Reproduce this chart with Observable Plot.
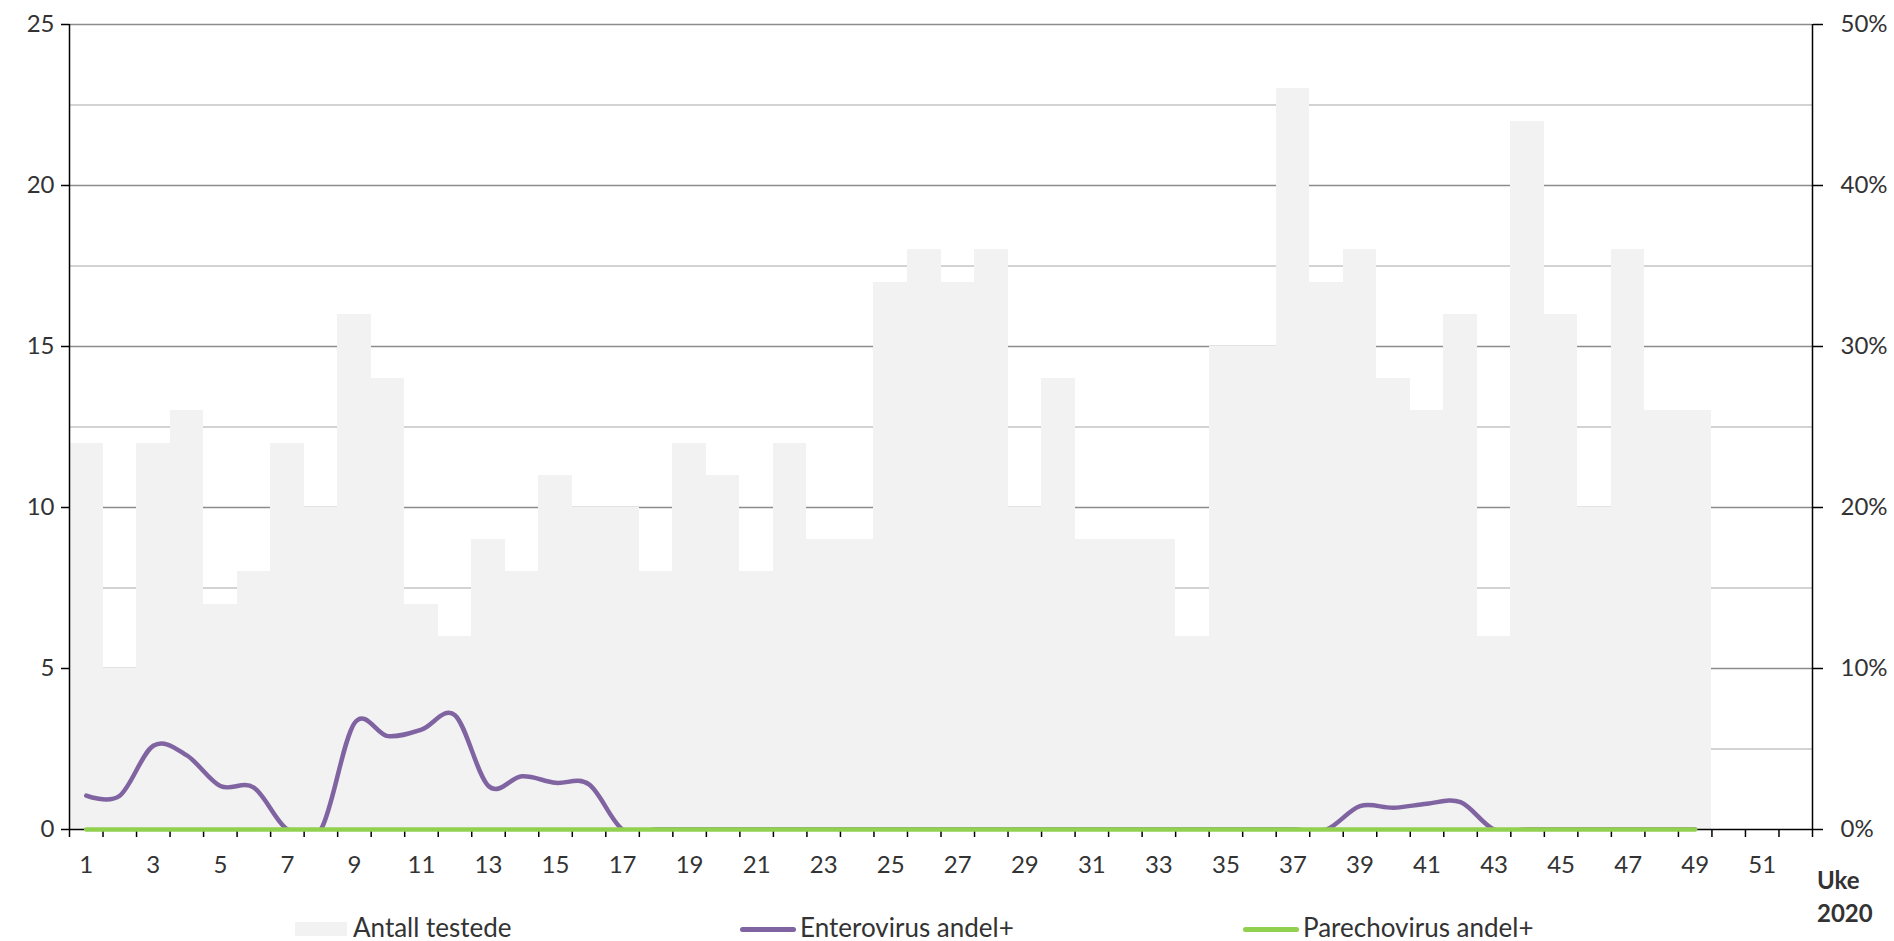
<!DOCTYPE html>
<html>
<head>
<meta charset="utf-8">
<script src="https://cdn.jsdelivr.net/npm/d3@7"></script>
<script src="https://cdn.jsdelivr.net/npm/@observablehq/plot@0.6"></script>
<style>
  html, body { margin: 0; padding: 0; background: #fff; }
  #wrap { position: relative; width: 1894px; height: 941px; font-family: Lato, "Open Sans", sans-serif; color: #333; }
  .lg { position: absolute; font-size: 26px; line-height: 1; white-space: nowrap; }
  .sw { position: absolute; }
  .uke { position: absolute; font-size: 24px; font-weight: bold; line-height: 1; }
</style>
</head>
<body>
<div id="wrap"></div>
<script>
// ---- data ----
const weeks = d3.range(1, 50);
const tested = [12,5,12,13,7,8,12,10,16,14, 7,6,9,8,11,10,10,8,12,11, 8,12,9,9,17,18,17,18,10,14, 9,9,9,6,15,15,23,17,18,14, 13,16,6,22,16,10,18,13,13];
const enteroPct = [2.1,2.1,5.2,4.6,2.7,2.6,0,0,6.6,5.8, 6.2,7.1,2.7,3.3,2.9,2.8,0,0,0,0, 0,0,0,0,0,0,0,0,0,0, 0,0,0,0,0,0,0,0,1.45,1.35, 1.6,1.7,0,0,0,0,0,0,0];
const parechoPct = weeks.map(() => 0);
const leftTicks = [0,5,10,15,20,25];
const xLabels = d3.range(1, 53, 2);
const xBoundaries = d3.range(0.5, 53, 1);
const gridMajor = [5,10,15,20,25];
const gridMinor = [2.5,7.5,12.5,17.5,22.5];
const legendLabels = ["Antall testede", "Enterovirus andel+", "Parechovirus andel+"];
const colors = {bar: "#f2f2f2", entero: "#8064a2", parecho: "#92d050"};

const rows = weeks.map((w, i) => ({week: w, tested: tested[i], entero: enteroPct[i], parecho: parechoPct[i]}));
const pctToY = p => p / 2; // 50% <-> 25

const chart = Plot.plot({
  width: 1894,
  height: 941,
  marginLeft: 69,
  marginRight: 82,
  marginTop: 24,
  marginBottom: 112,
  style: {fontFamily: "Lato, 'Open Sans', sans-serif", fontSize: "24px", color: "#333", background: "#fff"},
  x: {domain: [0.5, 52.5], axis: null},
  y: {domain: [0, 25], axis: null},
  marks: [
    Plot.ruleY(gridMinor, {stroke: "#c4c4c4", strokeWidth: 1.6}),
    Plot.ruleY(gridMajor, {stroke: "#8c8c8c", strokeWidth: 1.6}),
    Plot.rectY(rows, {x1: d => d.week - 0.5, x2: d => d.week + 0.5, y: "tested", fill: colors.bar, shapeRendering: "crispEdges"}),
    Plot.ruleX([0.5], {stroke: "#000", strokeWidth: 1.5}),
    Plot.ruleX([52.5], {stroke: "#000", strokeWidth: 1.5}),
    Plot.ruleY([0], {stroke: "#000", strokeWidth: 1.5}),
    Plot.axisY({anchor: "left", ticks: leftTicks, tickSize: 8, tickPadding: 7, label: null, stroke: "#000", strokeWidth: 1.5, fill: "#333"}),
    Plot.axisY({anchor: "right", ticks: leftTicks, tickFormat: d => (d * 2) + "%", tickSize: 10, tickPadding: 18, label: null, stroke: "#000", strokeWidth: 1.5, fill: "#333"}),
    Plot.axisX({anchor: "bottom", ticks: xBoundaries, tickFormat: () => "", tickSize: 8, label: null, stroke: "#000", strokeWidth: 1.5}),
    Plot.axisX({anchor: "bottom", ticks: xLabels, tickFormat: d => String(d), tickSize: 0, tickPadding: 26, label: null, fill: "#333"}),
    Plot.line(rows, {x: "week", y: d => pctToY(d.entero), stroke: colors.entero, strokeWidth: 4.5, curve: "cardinal", clip: true}),
    Plot.line(rows, {x: "week", y: d => pctToY(d.parecho), stroke: colors.parecho, strokeWidth: 4.5})
  ]
});

const wrap = document.getElementById("wrap");
wrap.appendChild(chart);
chart.style.position = "absolute";
chart.style.left = "0px";
chart.style.top = "0px";

// Week label
const uke = document.createElement("div");
uke.className = "uke";
uke.style.left = "1817px";
uke.style.top = "868px";
uke.innerHTML = "Uke<br><span style='display:inline-block;margin-top:9px'>2020</span>";
wrap.appendChild(uke);

// Legend
const items = [
  {label: legendLabels[0], x: 295, type: "rect", color: colors.bar},
  {label: legendLabels[1], x: 740, type: "line", color: colors.entero},
  {label: legendLabels[2], x: 1243, type: "line", color: colors.parecho}
];
items.forEach(it => {
  const sw = document.createElement("div");
  sw.className = "sw";
  sw.style.left = it.x + "px";
  sw.style.width = "56px";
  if (it.type === "rect") {
    sw.style.top = "922px"; sw.style.height = "14px"; sw.style.width = "52px";
  } else {
    sw.style.top = "927px"; sw.style.height = "5px"; sw.style.borderRadius = "3px";
  }
  sw.style.background = it.color;
  wrap.appendChild(sw);
  const t = document.createElement("div");
  t.className = "lg";
  t.textContent = it.label;
  t.style.left = (it.x + (it.type === "rect" ? 58 : 60)) + "px";
  t.style.top = "914px";
  wrap.appendChild(t);
});
</script>
</body>
</html>
